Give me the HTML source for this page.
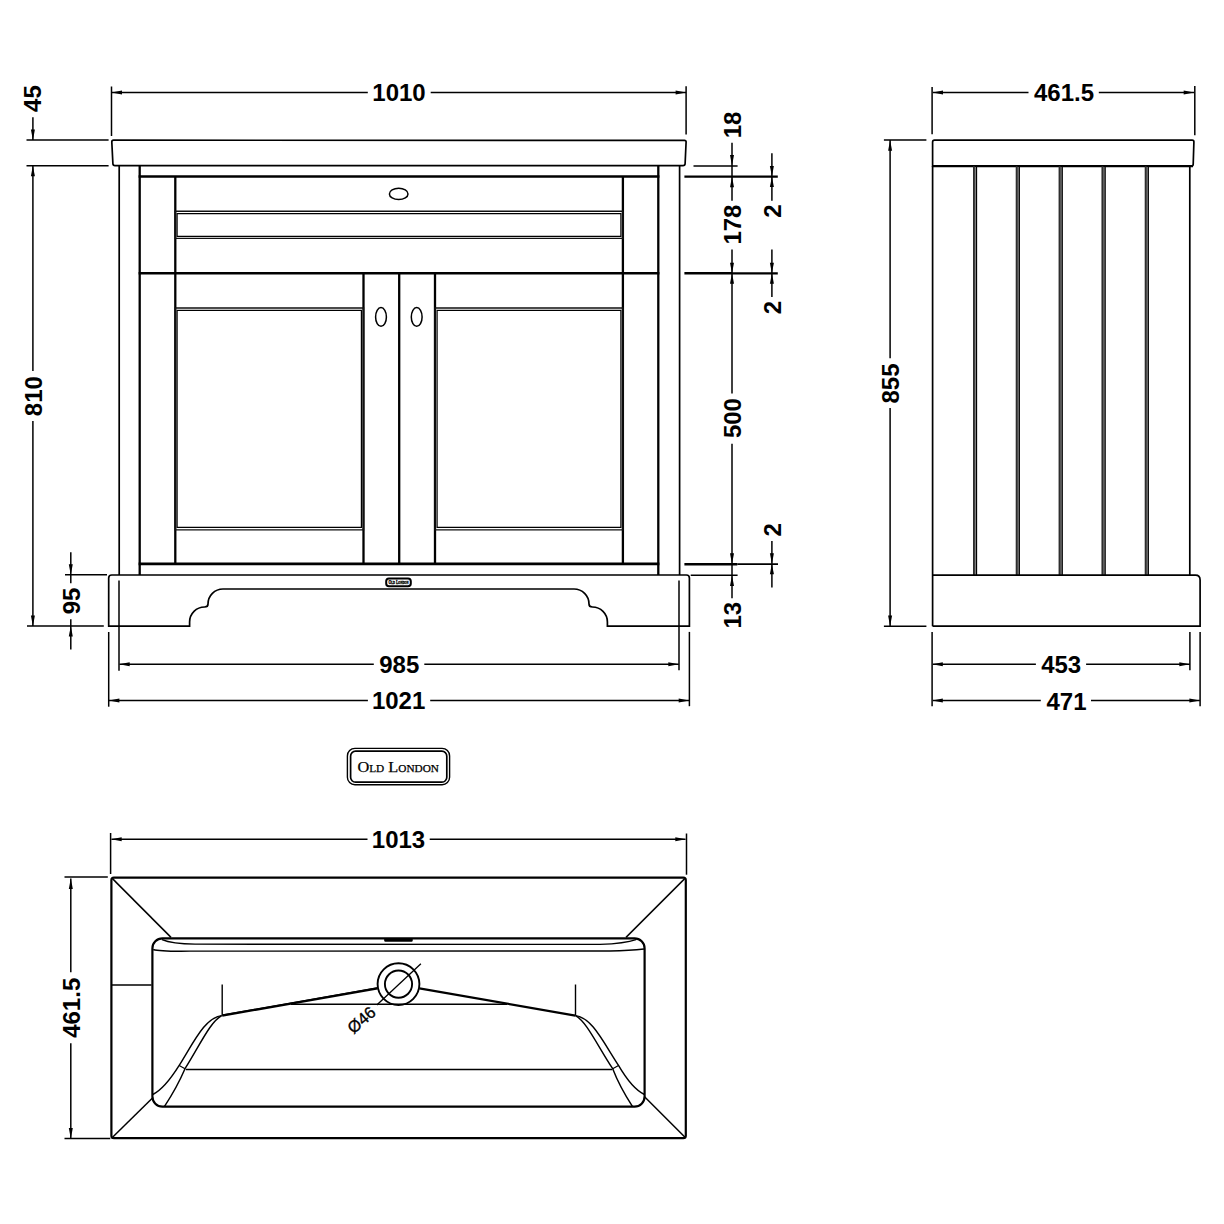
<!DOCTYPE html>
<html><head><meta charset="utf-8"><title>Vanity unit drawing</title>
<style>
html,body{margin:0;padding:0;background:#fff;}
body{width:1224px;height:1224px;overflow:hidden;font-family:"Liberation Sans",sans-serif;}
svg{display:block;}
</style></head>
<body>
<svg width="1224" height="1224" viewBox="0 0 1224 1224" stroke-linecap="butt">
<rect width="1224" height="1224" fill="#fff"/>
<line x1="111.5" y1="86.5" x2="111.5" y2="136" stroke="#000" stroke-width="1.5"/>
<line x1="686.1" y1="86.3" x2="686.1" y2="134.5" stroke="#000" stroke-width="1.5"/>
<line x1="111.5" y1="92.4" x2="367.8" y2="92.4" stroke="#000" stroke-width="1.5"/>
<line x1="430.7" y1="92.4" x2="686.1" y2="92.4" stroke="#000" stroke-width="1.5"/>
<path d="M111.5 92.4L122 90.4L122 94.4Z" fill="#000"/>
<path d="M686.1 92.4L675.6 94.4L675.6 90.4Z" fill="#000"/>
<text x="399" y="101" font-size="24" font-weight="bold" text-anchor="middle" font-family="Liberation Sans">1010</text>
<path d="M113.5 140.2 L684.5 140.4 Q686.2 140.4 686.1 142 L685.1 163.8 Q685 165.7 683 165.7 L115 165.7 Q113 165.7 112.9 163.8 L111.8 142 Q111.8 140.2 113.5 140.2 Z" stroke="#000" stroke-width="1.7" fill="none"/>
<line x1="119.2" y1="165.7" x2="119.2" y2="575" stroke="#000" stroke-width="1.7"/>
<line x1="139.7" y1="165.7" x2="139.7" y2="575" stroke="#000" stroke-width="2.3"/>
<line x1="679.6" y1="165.7" x2="679.6" y2="575" stroke="#000" stroke-width="1.7"/>
<line x1="658.3" y1="165.7" x2="658.3" y2="575" stroke="#000" stroke-width="2.3"/>
<line x1="138.6" y1="176.5" x2="659.4" y2="176.5" stroke="#000" stroke-width="2.6"/>
<line x1="138.6" y1="273.3" x2="659.4" y2="273.3" stroke="#000" stroke-width="2.6"/>
<line x1="138.6" y1="563.9" x2="659.4" y2="563.9" stroke="#000" stroke-width="2.6"/>
<line x1="175.3" y1="176.5" x2="175.3" y2="563.9" stroke="#000" stroke-width="2.3"/>
<line x1="622.9" y1="176.5" x2="622.9" y2="563.9" stroke="#000" stroke-width="2.3"/>
<path d="M175.3 211.2H623V238.4H175.3Z" stroke="#111" stroke-width="1.4" fill="none"/>
<path d="M177.1 213.6H620.9V236.3H177.1Z" stroke="#000" stroke-width="1.2" fill="none"/>
<ellipse cx="398.7" cy="193.9" rx="9.3" ry="5.7" fill="none" stroke="#000" stroke-width="1.5"/>
<line x1="363.5" y1="273.3" x2="363.5" y2="563.9" stroke="#000" stroke-width="2.3"/>
<line x1="399.2" y1="273.3" x2="399.2" y2="563.9" stroke="#000" stroke-width="2.3"/>
<line x1="435" y1="273.3" x2="435" y2="563.9" stroke="#000" stroke-width="2.3"/>
<path d="M175.3 308H363.5V529.9H175.3Z" stroke="#111" stroke-width="1.4" fill="none"/>
<path d="M177.1 310.3H361.4V527.3H177.1Z" stroke="#000" stroke-width="1.2" fill="none"/>
<path d="M435 308H623V529.9H435Z" stroke="#111" stroke-width="1.4" fill="none"/>
<path d="M437.1 310.3H620.9V527.3H437.1Z" stroke="#000" stroke-width="1.2" fill="none"/>
<ellipse cx="381" cy="316.9" rx="5.4" ry="9.4" fill="none" stroke="#000" stroke-width="1.5"/>
<ellipse cx="416.7" cy="316.9" rx="5.4" ry="9.4" fill="none" stroke="#000" stroke-width="1.5"/>
<path d="M108.7 626.2 V578 Q108.7 575 111.7 575 H686.4 Q689.4 575 689.4 578 V626.2 H607.4 V622 A15 15 0 0 0 592.4 607 Q589 607 589 604 A15 15 0 0 0 574 589 H223 A15 15 0 0 0 208 604 Q208 607 204.6 607 A15 15 0 0 0 189.6 622 V626.2 Z" stroke="#000" stroke-width="1.7" fill="none"/>
<rect x="386.2" y="578.4" width="24.6" height="7.8" rx="2.8" fill="none" stroke="#000" stroke-width="2"/>
<text x="398.4" y="584.4" font-size="5.4" font-weight="bold" stroke="#000" stroke-width="0.35" text-anchor="middle" font-family="Liberation Serif" style="font-variant:small-caps" textLength="20" lengthAdjust="spacingAndGlyphs">Old London</text>
<line x1="26.5" y1="140.1" x2="108.6" y2="140.1" stroke="#000" stroke-width="1.5"/>
<line x1="26.5" y1="165.8" x2="108.6" y2="165.8" stroke="#000" stroke-width="1.5"/>
<line x1="32.9" y1="117.3" x2="32.9" y2="140.1" stroke="#000" stroke-width="1.5"/>
<path d="M32.9 140.1L30.9 129.6L34.9 129.6Z" fill="#000"/>
<text transform="translate(32.5 98.6) rotate(-90)" x="0" y="0" font-size="24" font-weight="bold" text-anchor="middle" font-family="Liberation Sans" dy="8.6">45</text>
<line x1="32.9" y1="165.8" x2="32.9" y2="370.9" stroke="#000" stroke-width="1.5"/>
<line x1="32.9" y1="420.9" x2="32.9" y2="626.1" stroke="#000" stroke-width="1.5"/>
<path d="M32.9 165.8L34.9 176.3L30.9 176.3Z" fill="#000"/>
<path d="M32.9 626.1L30.9 615.6L34.9 615.6Z" fill="#000"/>
<text transform="translate(32.9 396.2) rotate(-90)" x="0" y="0" font-size="24" font-weight="bold" text-anchor="middle" font-family="Liberation Sans" dy="8.6">810</text>
<line x1="27" y1="626.1" x2="103.8" y2="626.1" stroke="#000" stroke-width="1.5"/>
<line x1="65" y1="574.8" x2="107" y2="574.8" stroke="#000" stroke-width="1.5"/>
<line x1="70.8" y1="552.3" x2="70.8" y2="583.3" stroke="#000" stroke-width="1.5"/>
<path d="M70.8 574.8L68.8 564.3L72.8 564.3Z" fill="#000"/>
<text transform="translate(71 600.9) rotate(-90)" x="0" y="0" font-size="24" font-weight="bold" text-anchor="middle" font-family="Liberation Sans" dy="8.6">95</text>
<line x1="70.8" y1="619.2" x2="70.8" y2="649.5" stroke="#000" stroke-width="1.5"/>
<path d="M70.8 626.1L72.8 636.6L68.8 636.6Z" fill="#000"/>
<line x1="119" y1="580.5" x2="119" y2="670.7" stroke="#000" stroke-width="1.5"/>
<line x1="679" y1="580.4" x2="679" y2="670.3" stroke="#000" stroke-width="1.5"/>
<line x1="108.7" y1="632" x2="108.7" y2="706.7" stroke="#000" stroke-width="1.5"/>
<line x1="689.4" y1="631.9" x2="689.4" y2="706.2" stroke="#000" stroke-width="1.5"/>
<line x1="119.5" y1="664.3" x2="373.8" y2="664.3" stroke="#000" stroke-width="1.5"/>
<line x1="424.3" y1="664.3" x2="678.8" y2="664.3" stroke="#000" stroke-width="1.5"/>
<path d="M119.2 664.3L129.7 662.3L129.7 666.3Z" fill="#000"/>
<path d="M678.8 664.3L668.3 666.3L668.3 662.3Z" fill="#000"/>
<text x="399.3" y="672.8" font-size="24" font-weight="bold" text-anchor="middle" font-family="Liberation Sans">985</text>
<line x1="108.7" y1="700.6" x2="367.9" y2="700.6" stroke="#000" stroke-width="1.5"/>
<line x1="430.2" y1="700.6" x2="689.2" y2="700.6" stroke="#000" stroke-width="1.5"/>
<path d="M108.9 700.6L119.4 698.6L119.4 702.6Z" fill="#000"/>
<path d="M689.2 700.6L678.7 702.6L678.7 698.6Z" fill="#000"/>
<text x="398.6" y="709.1" font-size="24" font-weight="bold" text-anchor="middle" font-family="Liberation Sans">1021</text>
<line x1="693.5" y1="165.9" x2="737.6" y2="165.9" stroke="#000" stroke-width="1.5"/>
<line x1="684.4" y1="176.6" x2="777.8" y2="176.6" stroke="#000" stroke-width="2.4"/>
<line x1="684.4" y1="273.3" x2="732" y2="273.3" stroke="#000" stroke-width="2.6"/>
<line x1="732" y1="273.3" x2="777.8" y2="273.3" stroke="#000" stroke-width="2.2"/>
<line x1="684.4" y1="564.2" x2="737.3" y2="564.2" stroke="#000" stroke-width="2.6"/>
<line x1="737.3" y1="564.2" x2="778" y2="564.2" stroke="#000" stroke-width="1.7"/>
<line x1="690.7" y1="575.2" x2="737.6" y2="575.2" stroke="#000" stroke-width="1.5"/>
<line x1="732" y1="142.7" x2="732" y2="200.7" stroke="#000" stroke-width="1.5"/>
<path d="M732 165.6L730 155.1L734 155.1Z" fill="#000"/>
<text transform="translate(732 125) rotate(-90)" x="0" y="0" font-size="24" font-weight="bold" text-anchor="middle" font-family="Liberation Sans" dy="8.6">18</text>
<path d="M732 176.8L734 187.3L730 187.3Z" fill="#000"/>
<text transform="translate(732 224.6) rotate(-90)" x="0" y="0" font-size="24" font-weight="bold" text-anchor="middle" font-family="Liberation Sans" dy="8.6">178</text>
<line x1="732" y1="249.6" x2="732" y2="273.3" stroke="#000" stroke-width="1.5"/>
<path d="M732 273.3L730 262.8L734 262.8Z" fill="#000"/>
<line x1="732" y1="273.3" x2="732" y2="393.4" stroke="#000" stroke-width="1.5"/>
<path d="M732 273.3L734 283.8L730 283.8Z" fill="#000"/>
<text transform="translate(732 418.1) rotate(-90)" x="0" y="0" font-size="24" font-weight="bold" text-anchor="middle" font-family="Liberation Sans" dy="8.6">500</text>
<line x1="732" y1="443.7" x2="732" y2="598.3" stroke="#000" stroke-width="1.5"/>
<path d="M732 563.8L730 553.3L734 553.3Z" fill="#000"/>
<path d="M732 575.4L734 585.9L730 585.9Z" fill="#000"/>
<text transform="translate(732 615.2) rotate(-90)" x="0" y="0" font-size="24" font-weight="bold" text-anchor="middle" font-family="Liberation Sans" dy="8.6">13</text>
<line x1="771.9" y1="153.3" x2="771.9" y2="176.5" stroke="#000" stroke-width="1.5"/>
<path d="M771.9 176.5L769.9 166L773.9 166Z" fill="#000"/>
<line x1="771.9" y1="176.5" x2="771.9" y2="200.7" stroke="#000" stroke-width="1.5"/>
<path d="M771.9 176.5L773.9 187L769.9 187Z" fill="#000"/>
<text transform="translate(772.2 211.2) rotate(-90)" x="0" y="0" font-size="24" font-weight="bold" text-anchor="middle" font-family="Liberation Sans" dy="8.6">2</text>
<line x1="771.9" y1="249.6" x2="771.9" y2="273.3" stroke="#000" stroke-width="1.5"/>
<path d="M771.9 273.3L769.9 262.8L773.9 262.8Z" fill="#000"/>
<line x1="771.9" y1="273.3" x2="771.9" y2="297" stroke="#000" stroke-width="1.5"/>
<path d="M771.9 273.3L773.9 283.8L769.9 283.8Z" fill="#000"/>
<text transform="translate(772.2 307.6) rotate(-90)" x="0" y="0" font-size="24" font-weight="bold" text-anchor="middle" font-family="Liberation Sans" dy="8.6">2</text>
<line x1="771.9" y1="540.9" x2="771.9" y2="563.8" stroke="#000" stroke-width="1.5"/>
<path d="M771.9 563.8L769.9 553.3L773.9 553.3Z" fill="#000"/>
<line x1="771.9" y1="563.8" x2="771.9" y2="587.5" stroke="#000" stroke-width="1.5"/>
<path d="M771.9 563.8L773.9 574.3L769.9 574.3Z" fill="#000"/>
<text transform="translate(772.2 529.9) rotate(-90)" x="0" y="0" font-size="24" font-weight="bold" text-anchor="middle" font-family="Liberation Sans" dy="8.6">2</text>
<line x1="932.1" y1="87" x2="932.1" y2="134.3" stroke="#000" stroke-width="1.5"/>
<line x1="1194.8" y1="86.1" x2="1194.8" y2="135.2" stroke="#000" stroke-width="1.5"/>
<line x1="932.9" y1="92.4" x2="1028.5" y2="92.4" stroke="#000" stroke-width="1.5"/>
<line x1="1098.8" y1="92.4" x2="1194" y2="92.4" stroke="#000" stroke-width="1.5"/>
<path d="M932.5 92.4L943 90.4L943 94.4Z" fill="#000"/>
<path d="M1194.2 92.4L1183.7 94.4L1183.7 90.4Z" fill="#000"/>
<text x="1064" y="100.8" font-size="24" font-weight="bold" text-anchor="middle" font-family="Liberation Sans">461.5</text>
<path d="M934.5 140.1 H1192.2 Q1194 140.1 1193.9 142 L1193.2 164.3 Q1193.1 166.2 1191.3 166.2 H932.6 V142 Q932.6 140.1 934.5 140.1 Z" stroke="#000" stroke-width="1.7" fill="none"/>
<line x1="932.6" y1="166.2" x2="1193" y2="166.2" stroke="#000" stroke-width="2.3"/>
<line x1="932.6" y1="166.2" x2="932.6" y2="626.2" stroke="#000" stroke-width="1.7"/>
<line x1="1189.8" y1="166.2" x2="1189.8" y2="575.2" stroke="#000" stroke-width="1.7"/>
<rect x="973" y="167" width="4.1" height="408" fill="#808080"/>
<line x1="973.9" y1="166.2" x2="973.9" y2="575.2" stroke="#2e2e2e" stroke-width="1.8"/>
<line x1="976.55" y1="166.2" x2="976.55" y2="575.2" stroke="#000" stroke-width="1.1"/>
<rect x="1015.8" y="167" width="4.1" height="408" fill="#808080"/>
<line x1="1016.7" y1="166.2" x2="1016.7" y2="575.2" stroke="#2e2e2e" stroke-width="1.8"/>
<line x1="1019.35" y1="166.2" x2="1019.35" y2="575.2" stroke="#000" stroke-width="1.1"/>
<rect x="1058.7" y="167" width="4.1" height="408" fill="#808080"/>
<line x1="1059.6" y1="166.2" x2="1059.6" y2="575.2" stroke="#2e2e2e" stroke-width="1.8"/>
<line x1="1062.25" y1="166.2" x2="1062.25" y2="575.2" stroke="#000" stroke-width="1.1"/>
<rect x="1101.6" y="167" width="4.1" height="408" fill="#808080"/>
<line x1="1102.5" y1="166.2" x2="1102.5" y2="575.2" stroke="#2e2e2e" stroke-width="1.8"/>
<line x1="1105.15" y1="166.2" x2="1105.15" y2="575.2" stroke="#000" stroke-width="1.1"/>
<rect x="1144.8" y="167" width="4.1" height="408" fill="#808080"/>
<line x1="1145.7" y1="166.2" x2="1145.7" y2="575.2" stroke="#2e2e2e" stroke-width="1.8"/>
<line x1="1148.35" y1="166.2" x2="1148.35" y2="575.2" stroke="#000" stroke-width="1.1"/>
<path d="M932.6 575.2 H1195.5 Q1200.1 575.2 1200.1 580 V626.2 H932.6" stroke="#000" stroke-width="1.7" fill="none"/>
<line x1="883.9" y1="140.1" x2="926.4" y2="140.1" stroke="#000" stroke-width="1.5"/>
<line x1="883.9" y1="626.2" x2="926.4" y2="626.2" stroke="#000" stroke-width="1.5"/>
<line x1="890.1" y1="140.1" x2="890.1" y2="358.3" stroke="#000" stroke-width="1.5"/>
<path d="M890.1 140.2L892.1 150.7L888.1 150.7Z" fill="#000"/>
<text transform="translate(890.4 383.5) rotate(-90)" x="0" y="0" font-size="24" font-weight="bold" text-anchor="middle" font-family="Liberation Sans" dy="8.6">855</text>
<line x1="890.1" y1="408" x2="890.1" y2="626.2" stroke="#000" stroke-width="1.5"/>
<path d="M890.1 626.1L888.1 615.6L892.1 615.6Z" fill="#000"/>
<line x1="932.1" y1="631.9" x2="932.1" y2="706.3" stroke="#000" stroke-width="1.5"/>
<line x1="1189.9" y1="631.9" x2="1189.9" y2="670.3" stroke="#000" stroke-width="1.5"/>
<line x1="1200.1" y1="631.9" x2="1200.1" y2="706.3" stroke="#000" stroke-width="1.5"/>
<line x1="932.9" y1="664.3" x2="1035.9" y2="664.3" stroke="#000" stroke-width="1.5"/>
<line x1="1086.1" y1="664.3" x2="1189.9" y2="664.3" stroke="#000" stroke-width="1.5"/>
<path d="M932.3 664.3L942.8 662.3L942.8 666.3Z" fill="#000"/>
<path d="M1189.8 664.3L1179.3 666.3L1179.3 662.3Z" fill="#000"/>
<text x="1061.2" y="672.8" font-size="24" font-weight="bold" text-anchor="middle" font-family="Liberation Sans">453</text>
<line x1="932.9" y1="700.6" x2="1040.8" y2="700.6" stroke="#000" stroke-width="1.5"/>
<line x1="1091" y1="700.6" x2="1199.9" y2="700.6" stroke="#000" stroke-width="1.5"/>
<path d="M932.3 700.6L942.8 698.6L942.8 702.6Z" fill="#000"/>
<path d="M1199.9 700.6L1189.4 702.6L1189.4 698.6Z" fill="#000"/>
<text x="1066.5" y="709.5" font-size="24" font-weight="bold" text-anchor="middle" font-family="Liberation Sans">471</text>
<rect x="347.4" y="748.4" width="102.2" height="36.4" rx="7.5" fill="none" stroke="#000" stroke-width="1.4"/>
<rect x="350.6" y="751.2" width="96.2" height="31" rx="5" fill="none" stroke="#000" stroke-width="1.7"/>
<text x="398.2" y="771.7" font-size="14.5" font-weight="normal" stroke="#000" stroke-width="0.25" text-anchor="middle" font-family="Liberation Serif" style="font-variant:small-caps" textLength="81.5" lengthAdjust="spacingAndGlyphs">Old London</text>
<line x1="110.6" y1="833" x2="110.6" y2="874" stroke="#000" stroke-width="1.5"/>
<line x1="686.5" y1="833.5" x2="686.5" y2="874.7" stroke="#000" stroke-width="1.5"/>
<line x1="111.5" y1="839.3" x2="367.5" y2="839.3" stroke="#000" stroke-width="1.5"/>
<line x1="429.7" y1="839.3" x2="685.5" y2="839.3" stroke="#000" stroke-width="1.5"/>
<path d="M111.2 839.3L121.7 837.3L121.7 841.3Z" fill="#000"/>
<path d="M685.8 839.3L675.3 841.3L675.3 837.3Z" fill="#000"/>
<text x="398.5" y="847.7" font-size="24" font-weight="bold" text-anchor="middle" font-family="Liberation Sans">1013</text>
<line x1="64.5" y1="876.9" x2="107.8" y2="876.9" stroke="#000" stroke-width="1.5"/>
<line x1="64.5" y1="1138.5" x2="110.3" y2="1138.5" stroke="#000" stroke-width="1.5"/>
<line x1="70.8" y1="878.5" x2="70.8" y2="972.3" stroke="#000" stroke-width="1.5"/>
<path d="M70.8 878.4L72.8 888.9L68.8 888.9Z" fill="#000"/>
<text transform="translate(71 1007.8) rotate(-90)" x="0" y="0" font-size="24" font-weight="bold" text-anchor="middle" font-family="Liberation Sans" dy="8.6">461.5</text>
<line x1="70.8" y1="1043.3" x2="70.8" y2="1138.5" stroke="#000" stroke-width="1.5"/>
<path d="M70.8 1138.6L68.8 1128.1L72.8 1128.1Z" fill="#000"/>
<rect x="111.4" y="877.6" width="574.4" height="260.6" rx="2.5" fill="none" stroke="#000" stroke-width="2.2"/>
<line x1="112.2" y1="878.4" x2="171" y2="937.4" stroke="#000" stroke-width="1.5"/>
<line x1="685" y1="878.4" x2="626" y2="937.4" stroke="#000" stroke-width="1.5"/>
<line x1="112.8" y1="1137" x2="153" y2="1097.5" stroke="#000" stroke-width="1.5"/>
<line x1="684.8" y1="1137" x2="644.3" y2="1096.5" stroke="#000" stroke-width="1.5"/>
<rect x="152.4" y="938.4" width="492.2" height="168.2" rx="10" fill="none" stroke="#000" stroke-width="2.2"/>
<path d="M162 939.6 Q172 943.8 195 944.2 L600 944.4 Q625 943.5 636 939.6" stroke="#000" stroke-width="1.35" fill="none"/>
<path d="M153.2 949.5 Q160 951.6 190 951.2 L610 951 Q630 950.4 644 949" stroke="#000" stroke-width="1.35" fill="none"/>
<rect x="384.2" y="938.3" width="28.5" height="3.4" rx="1.2" fill="#000"/>
<line x1="111.4" y1="985" x2="151.5" y2="985" stroke="#000" stroke-width="1.5"/>
<circle cx="398.5" cy="984.1" r="20.9" fill="none" stroke="#000" stroke-width="1.9"/>
<circle cx="398.5" cy="984.1" r="13.6" fill="none" stroke="#000" stroke-width="1.9"/>
<line x1="376.8" y1="1005" x2="420.9" y2="963.8" stroke="#000" stroke-width="1.3"/>
<text transform="translate(361.4 1019.9) rotate(-41)" x="0" y="0" font-size="16.5" font-weight="normal" text-anchor="middle" font-family="Liberation Sans" dy="5.8" stroke="#000" stroke-width="0.35">&#216;46</text>
<path d="M377.6 988.4 L222.2 1015.6" stroke="#000" stroke-width="2.2" fill="none"/>
<path d="M377.6 987.6 L300 1001.3 L222.5 1014.8" stroke="#000" stroke-width="1" fill="none"/>
<path d="M419.4 988.4 L575.3 1015.6" stroke="#000" stroke-width="2.2" fill="none"/>
<line x1="291" y1="1004.3" x2="507" y2="1004.3" stroke="#000" stroke-width="1.45"/>
<line x1="222.2" y1="984.5" x2="222.2" y2="1015.6" stroke="#000" stroke-width="1.4"/>
<line x1="575.5" y1="984.5" x2="575.5" y2="1015.6" stroke="#000" stroke-width="1.4"/>
<path d="M221.7 1015.6 C205 1018 195 1040 179.2 1065.4 C170 1080 162 1090 152.8 1094.5" stroke="#000" stroke-width="1.45" fill="none"/>
<path d="M221.7 1015.6 C210 1022 200 1045 185 1068.7 C178 1085 170 1098 164.5 1106.3" stroke="#000" stroke-width="1.45" fill="none"/>
<line x1="179.2" y1="1065.4" x2="185" y2="1068.7" stroke="#000" stroke-width="1.2"/>
<path d="M575.5 1015.6 C592 1018 602 1040 618.5 1065.4 C627 1080 635 1090 644.4 1094.5" stroke="#000" stroke-width="1.45" fill="none"/>
<path d="M575.5 1015.6 C587 1022 597 1045 612.7 1068.7 C619 1085 627 1098 632.4 1106.3" stroke="#000" stroke-width="1.45" fill="none"/>
<line x1="618.5" y1="1065.4" x2="612.7" y2="1068.7" stroke="#000" stroke-width="1.2"/>
<line x1="185.8" y1="1069.5" x2="612" y2="1069.5" stroke="#000" stroke-width="1.45"/>
</svg>
</body></html>
